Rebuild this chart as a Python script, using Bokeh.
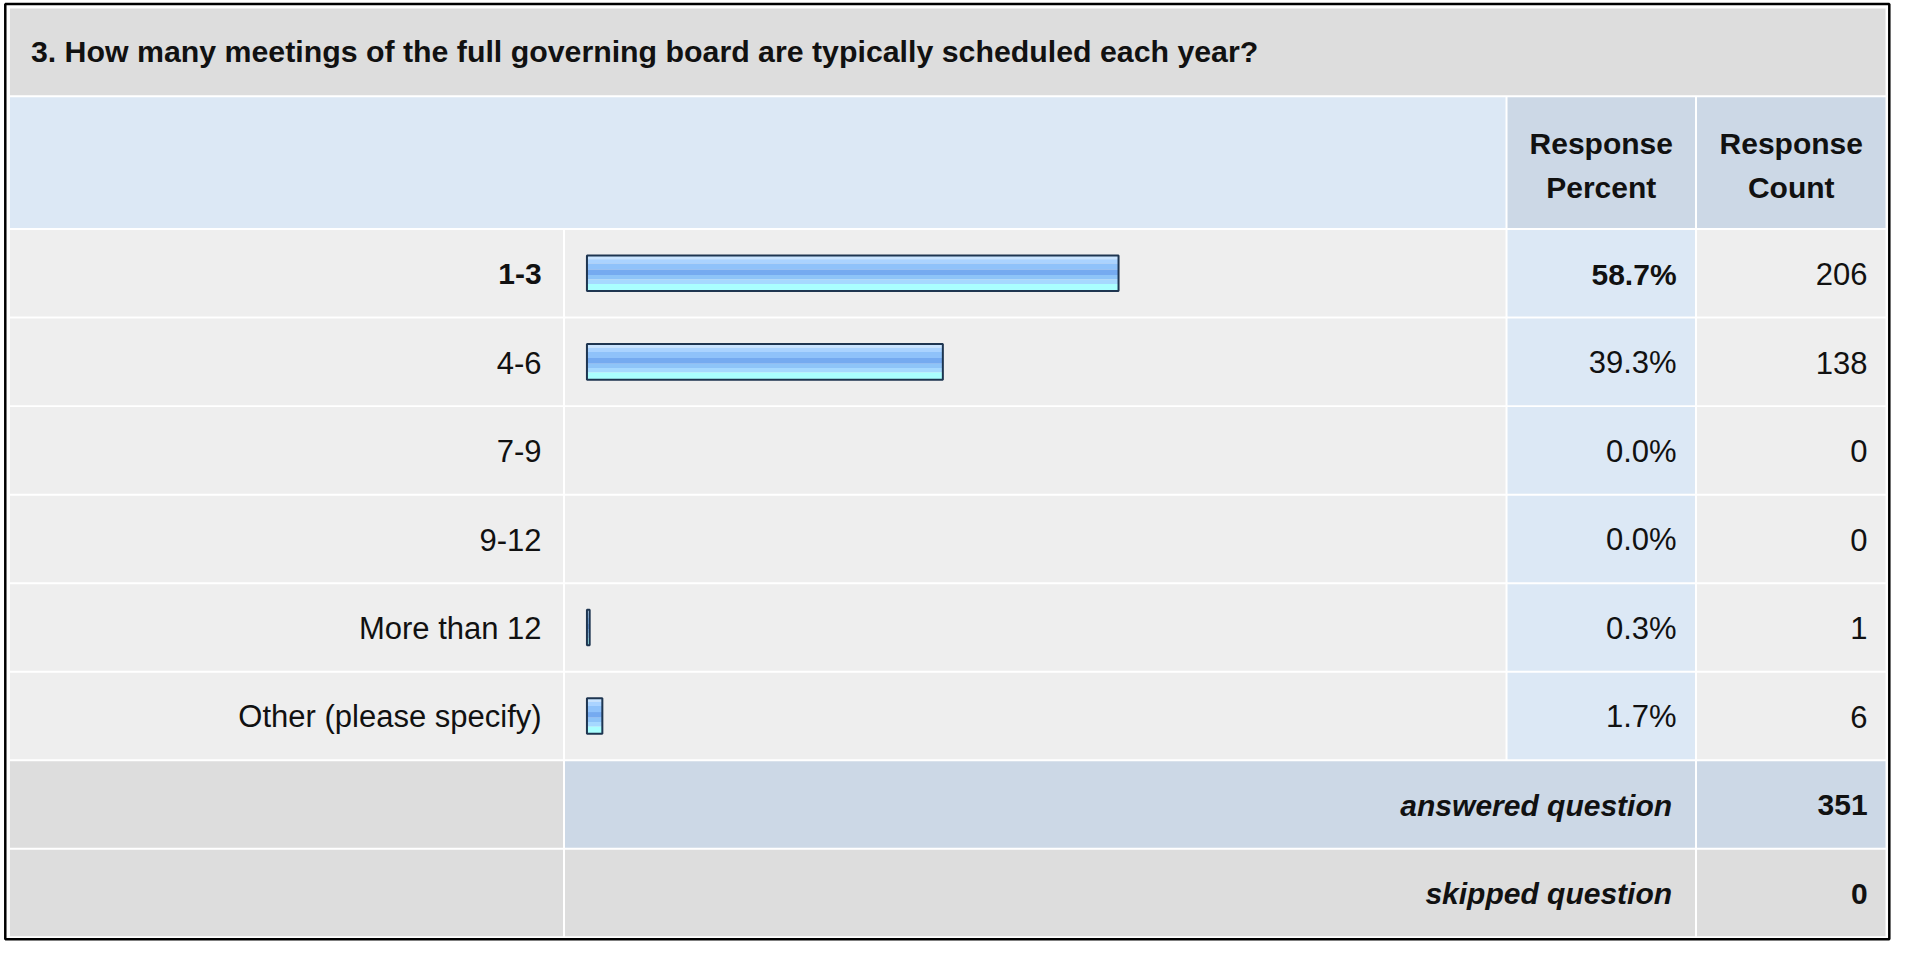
from bokeh.plotting import figure
from bokeh.models import Range1d, ColumnDataSource
from bokeh.core.properties import value
from bokeh.embed import file_html
from bokeh.resources import INLINE

# ---------------- data ----------------
title = "3. How many meetings of the full governing board are typically scheduled each year?"
categories = ["1-3", "4-6", "7-9", "9-12", "More than 12", "Other (please specify)"]
percents = [58.7, 39.3, 0.0, 0.0, 0.3, 1.7]
counts = [206, 138, 0, 0, 1, 6]
header_percent = ["Response", "Percent"]
header_count = ["Response", "Count"]
summary_labels = ["answered question", "skipped question"]
summary_values = [351, 0]

# ---------------- layout constants ----------------
FONT = value("Liberation Sans")
FS_T = "30.3px"
FS_B = "30px"
FS_N = "31px"
X0, X1, X2, X3, X4 = 9.5, 566.0, 1511.0, 1701.0, 1892.0
Y_TITLE0, Y_HEAD0, Y_ROWS0 = 12.0, 101.0, 235.5
PITCH = 89.65
G = 1.0  # half white gap

XR = (1.0, 1897.0)
YR = (957.0, 4.0)
p = figure(width=1891, height=941, x_range=Range1d(*XR), y_range=Range1d(*YR),
           output_backend="svg", toolbar_location=None, min_border=0)
p.axis.visible = False
p.grid.visible = False
p.outline_line_color = None
p.background_fill_color = "white"
p.border_fill_color = "white"

# percent scale for bars: 0% at x=589, 100% at x=1497
BAR0, BAR100 = 589.0, 1497.0
k = (BAR100 - BAR0) / 100.0
p.extra_x_ranges = {"pct": Range1d((XR[0] - BAR0) / k, (XR[1] - BAR0) / k)}

cells = dict(left=[], right=[], top=[], bottom=[], color=[])


def cell(x0, x1, y0, y1, c):
    cells["left"].append(x0 + G)
    cells["right"].append(x1 - G)
    cells["top"].append(y0 + G)
    cells["bottom"].append(y1 - G)
    cells["color"].append(c)


GRAY = "#dddddd"
LIGHT = "#eeeeee"
BLUE = "#dce8f5"
BLUEGRAY = "#ccd8e6"

cell(X0, X4, Y_TITLE0 - G, Y_HEAD0, GRAY)
cell(X0, X2, Y_HEAD0, Y_ROWS0, BLUE)
cell(X2, X3, Y_HEAD0, Y_ROWS0, BLUEGRAY)
cell(X3, X4, Y_HEAD0, Y_ROWS0, BLUEGRAY)
row_centers = []
for i in range(len(categories)):
    y0 = Y_ROWS0 + i * PITCH
    y1 = y0 + PITCH
    row_centers.append((y0 + y1) / 2)
    cell(X0, X1, y0, y1, LIGHT)
    cell(X1, X2, y0, y1, LIGHT)
    cell(X2, X3, y0, y1, BLUE)
    cell(X3, X4, y0, y1, LIGHT)
sum_centers = []
for j in range(2):
    y0 = Y_ROWS0 + (len(categories) + j) * PITCH
    y1 = y0 + PITCH
    sum_centers.append((y0 + y1) / 2)
    cell(X0, X1, y0, y1, GRAY)
    cell(X1, X3, y0, y1, BLUEGRAY if j == 0 else GRAY)
    cell(X3, X4, y0, y1, BLUEGRAY if j == 0 else GRAY)

p.quad(left="left", right="right", top="top", bottom="bottom", fill_color="color",
       line_color=None, source=ColumnDataSource(cells))

# outer border
p.quad(left=[5.8], right=[1894.8], top=[7.6], bottom=[954.8], fill_color=None,
       line_color="#000000", line_width=2.5)

# ---------------- bars (gradient stripes) ----------------
BAR_H = 36.0
stripes = [  # (offset from top as fraction, fraction height, colour)
    (0.00, 0.10, "#c9e4ff"),
    (0.10, 0.12, "#aad3ff"),
    (0.22, 0.17, "#8fc2fa"),
    (0.39, 0.16, "#75aaf0"),
    (0.55, 0.12, "#8ec4f8"),
    (0.67, 0.13, "#a6d9ff"),
    (0.80, 0.20, "#aaffff"),
]
bar_idx = [i for i, v in enumerate(percents) if v > 0]
for (off, h, c) in stripes:
    tops, bots, rights = [], [], []
    for i in bar_idx:
        t = row_centers[i] - BAR_H / 2
        tops.append(t + off * BAR_H)
        bots.append(t + (off + h) * BAR_H)
        rights.append(percents[i])
    p.quad(left=0, right=rights, top=tops, bottom=bots, fill_color=c, line_color=None,
           x_range_name="pct")
p.quad(left=0, right=[percents[i] for i in bar_idx],
       top=[row_centers[i] - BAR_H / 2 for i in bar_idx],
       bottom=[row_centers[i] + BAR_H / 2 for i in bar_idx],
       fill_color=None, line_color="#1e3550", line_width=2, x_range_name="pct")

# ---------------- texts ----------------
TXT = "#111111"
p.text(x=[31.5], y=[56], text=[title], text_font=FONT, text_font_size=FS_T,
       text_font_style="bold", text_align="left", text_baseline="middle", text_color=TXT)

hx_p, hx_c = (X2 + X3) / 2, (X3 + X4) / 2
p.text(x=[hx_p, hx_p, hx_c, hx_c], y=[148.7, 193.8, 148.7, 193.8],
       text=[header_percent[0], header_percent[1], header_count[0], header_count[1]],
       text_font=FONT, text_font_size=FS_B, text_font_style="bold",
       text_align="center", text_baseline="middle", text_color=TXT)

top = max(percents)
for i, cat in enumerate(categories):
    bold = percents[i] == top
    style = "bold" if bold else "normal"
    fs = FS_B if bold else FS_N
    y = row_centers[i] + 1
    p.text(x=[543.5], y=[y], text=[cat], text_font=FONT, text_font_size=fs,
           text_font_style=style, text_align="right", text_baseline="middle", text_color=TXT)
    p.text(x=[1681.5], y=[y], text=[f"{percents[i]:.1f}%"], text_font=FONT, text_font_size=fs,
           text_font_style=style, text_align="right", text_baseline="middle", text_color=TXT)
    p.text(x=[1873], y=[y], text=[str(counts[i])], text_font=FONT, text_font_size=FS_N,
           text_font_style="normal", text_align="right", text_baseline="middle", text_color=TXT)

for j in range(2):
    y = sum_centers[j] + 1
    p.text(x=[1677], y=[y], text=[summary_labels[j]], text_font=FONT, text_font_size=FS_B,
           text_font_style="bold italic", text_align="right", text_baseline="middle", text_color=TXT)
    p.text(x=[1873], y=[y], text=[str(summary_values[j])], text_font=FONT, text_font_size=FS_B,
           text_font_style="bold", text_align="right", text_baseline="middle", text_color=TXT)

open("out.html", "w").write(file_html(p, INLINE))
